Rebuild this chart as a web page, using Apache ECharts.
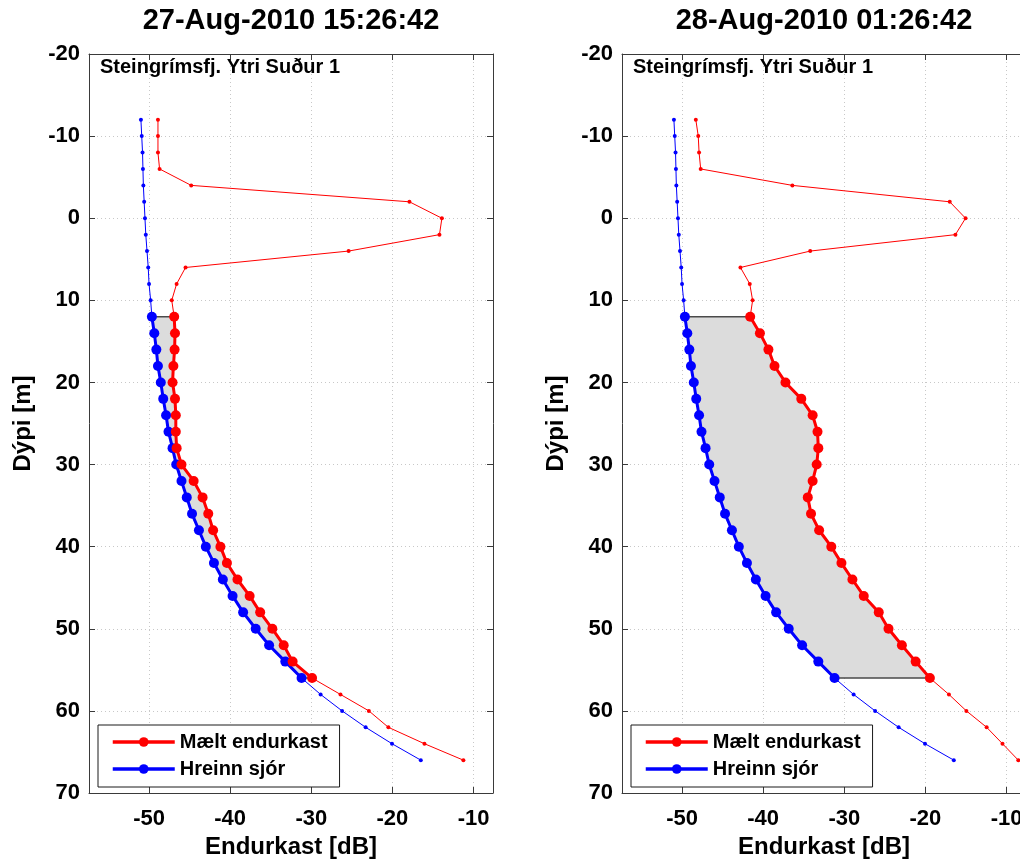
<!DOCTYPE html>
<html>
<head>
<meta charset="utf-8">
<title>Endurkast - Steingrímsfjörður</title>
<script src="https://cdn.jsdelivr.net/npm/echarts@6/dist/echarts.min.js"></script>
<style>
  html, body { margin: 0; padding: 0; background: #ffffff; }
  #chart { width: 1020px; height: 859px; }
</style>
</head>
<body>
<div id="chart"></div>
<script>
// Depth of each sample (m)
const depth = [-12, -10, -8, -6, -4, -2, 0, 2, 4, 6, 8, 10, 12, 14, 16, 18, 20, 22, 24, 26,
               28, 30, 32, 34, 36, 38, 40, 42, 44, 46, 48, 50, 52, 54, 56, 58, 60, 62, 64, 66];

// Modelled clean-water backscatter (dB), same for both casts
const hreinnSjor = [-51.0, -50.9, -50.8, -50.75, -50.7, -50.6, -50.5, -50.4, -50.25, -50.1,
                    -50.0, -49.8, -49.65, -49.35, -49.1, -48.9, -48.55, -48.25, -47.9, -47.6,
                    -47.1, -46.65, -46.0, -45.35, -44.7, -43.85, -43.0, -42.0, -40.9, -39.7,
                    -38.4, -36.85, -35.2, -33.2, -31.2, -28.85, -26.2, -23.3, -20.05, -16.5];

// Measured backscatter (dB), 27-Aug-2010 15:26:42
const maeltA = [-48.9, -48.9, -48.9, -48.7, -44.8, -17.9, -13.9, -14.2, -25.4, -45.5,
                -46.6, -47.2, -46.9, -46.8, -46.85, -47.0, -47.1, -46.8, -46.7, -46.7,
                -46.6, -46.0, -44.5, -43.4, -42.7, -42.1, -41.2, -40.4, -39.1, -37.6,
                -36.3, -34.8, -33.4, -32.3, -29.9, -26.4, -22.9, -20.5, -16.05, -11.25];

// Measured backscatter (dB), 28-Aug-2010 01:26:42
const maeltB = [-48.3, -48.0, -47.9, -47.7, -36.4, -17.0, -15.05, -16.3, -34.2, -42.8,
                -41.65, -41.3, -41.6, -40.4, -39.35, -38.6, -37.25, -35.3, -33.9, -33.3,
                -33.2, -33.4, -33.9, -34.5, -34.1, -33.1, -31.6, -30.35, -29.0, -27.6,
                -25.75, -24.55, -22.9, -21.2, -19.45, -17.1, -14.95, -12.45, -10.5, -8.55];

const panelTitles = ['27-Aug-2010 15:26:42', '28-Aug-2010 01:26:42'];
const stationName = 'Steingrímsfj. Ytri Suður 1';
const seriesNames = ['Mælt endurkast', 'Hreinn sjór'];
const xTitle = 'Endurkast [dB]';
const yTitle = 'Dýpi [m]';
const layerRange = [12, 56];      // depth band used for the integration (m)
const xRange = [-57.4, -7.6];
const yRange = [-20, 70];
const yStep = 10;

const FONT = '"Liberation Sans", Arial, Helvetica, sans-serif';
const RED = '#ff0000';
const BLUE = '#0000ff';
const AXIS_COLOR = '#3a3a3a';

const pairs = (xs) => xs.map((x, i) => [x, depth[i]]);
const inLayer = (xs) => pairs(xs).filter(p => p[1] >= layerRange[0] && p[1] <= layerRange[1]);

const panels = [
  { left: 89,  maelt: maeltA, title: panelTitles[0] },
  { left: 622, maelt: maeltB, title: panelTitles[1] }
];
const GRID_W = 404, GRID_TOP = 54, GRID_H = 739;

const option = {
  animation: false,
  backgroundColor: '#ffffff',
  textStyle: { fontFamily: FONT },
  grid: [], xAxis: [], yAxis: [], series: [], legend: [], graphic: []
};

panels.forEach((p, k) => {
  // fixed plot box; the right panel runs past the canvas edge on purpose
  option.grid.push({
    left: p.left, top: GRID_TOP, width: GRID_W, height: GRID_H,
    containLabel: false, outerBoundsMode: 'none'
  });

  const lineStyle = { color: AXIS_COLOR, width: 1 };
  // bottom x axis with labels and grid
  option.xAxis.push({
    type: 'value', gridIndex: k, position: 'bottom',
    min: xRange[0], max: xRange[1], splitNumber: 5,
    name: xTitle, nameLocation: 'middle', nameGap: 40,
    nameTextStyle: { fontSize: 24, fontWeight: 'bold', color: '#000', fontFamily: FONT },
    axisLine: { show: true, onZero: false, lineStyle },
    axisTick: { show: true, inside: true, length: 6, lineStyle },
    axisLabel: { fontSize: 22, fontWeight: 'bold', color: '#000', fontFamily: FONT, margin: 15,
                 showMinLabel: false, showMaxLabel: false },
    splitLine: { show: true, lineStyle: { color: '#c8c8c8', width: 1, type: [1, 3] } }
  });
  // top x axis: box edge with ticks
  option.xAxis.push({
    type: 'value', gridIndex: k, position: 'top',
    min: xRange[0], max: xRange[1], splitNumber: 5,
    axisLine: { show: true, onZero: false, lineStyle },
    axisTick: { show: true, inside: true, length: 6, lineStyle },
    axisLabel: { show: false }, splitLine: { show: false }
  });
  // left depth axis
  option.yAxis.push({
    type: 'value', gridIndex: k, position: 'left', inverse: true,
    min: yRange[0], max: yRange[1], interval: yStep,
    name: yTitle, nameLocation: 'middle', nameGap: 54,
    nameTextStyle: { fontSize: 24, fontWeight: 'bold', color: '#000', fontFamily: FONT },
    axisLine: { show: true, onZero: false, lineStyle },
    axisTick: { show: true, inside: true, length: 6, lineStyle },
    axisLabel: { fontSize: 22, fontWeight: 'bold', color: '#000', fontFamily: FONT, margin: 9 },
    splitLine: { show: true, lineStyle: { color: '#c8c8c8', width: 1, type: [1, 3] } }
  });
  // right depth axis: box edge with ticks
  option.yAxis.push({
    type: 'value', gridIndex: k, position: 'right', inverse: true,
    min: yRange[0], max: yRange[1], interval: yStep,
    axisLine: { show: true, onZero: false, lineStyle },
    axisTick: { show: true, inside: true, length: 6, lineStyle },
    axisLabel: { show: false }, splitLine: { show: false }
  });

  const xi = k * 2, yi = k * 2;

  // shaded band between measured and clean-water profiles
  const band = inLayer(p.maelt).concat(inLayer(hreinnSjor).reverse());
  option.series.push({
    type: 'custom', xAxisIndex: xi, yAxisIndex: yi, z: 1, silent: true,
    data: band, encode: { x: 0, y: 1 },
    renderItem: function (params, api) {
      if (params.dataIndexInside !== 0) return;
      const pts = [];
      for (let i = 0; i < params.dataInsideLength; i++) {
        pts.push(api.coord([api.value(0, i), api.value(1, i)]));
      }
      return {
        type: 'polygon',
        shape: { points: pts },
        style: { fill: '#dcdcdc', stroke: '#4a4a4a', lineWidth: 1.5 }
      };
    }
  });

  const thin = (data, color) => ({
    type: 'line', xAxisIndex: xi, yAxisIndex: yi, z: 2, silent: true,
    data, symbol: 'circle', symbolSize: 4, showAllSymbol: true,
    lineStyle: { color, width: 1 }, itemStyle: { color }, emphasis: { disabled: true }
  });
  const thick = (name, data, color) => ({
    name, type: 'line', xAxisIndex: xi, yAxisIndex: yi, z: 3, silent: true,
    data, symbol: 'circle', symbolSize: 10, showAllSymbol: true,
    lineStyle: { color, width: 3 }, itemStyle: { color }, emphasis: { disabled: true }
  });

  option.series.push(thin(pairs(hreinnSjor), BLUE));
  option.series.push(thin(pairs(p.maelt), RED));
  option.series.push(thick(seriesNames[1], inLayer(hreinnSjor), BLUE));
  option.series.push(thick(seriesNames[0], inLayer(p.maelt), RED));

  option.legend.push({
    data: seriesNames, orient: 'vertical', selectedMode: false,
    left: p.left + 9, top: 725,
    itemWidth: 62, itemHeight: 12, itemGap: 7,
    padding: [7, 12, 8, 13],
    lineStyle: { width: 3.5 },
    backgroundColor: '#ffffff', borderColor: '#1a1a1a', borderWidth: 1, borderRadius: 0,
    textStyle: { fontSize: 20, fontWeight: 'bold', color: '#000', fontFamily: FONT }
  });

  option.graphic.push({
    type: 'text', x: p.left + GRID_W / 2, y: 21, z: 10,
    style: { text: p.title, font: 'bold 29px ' + FONT, fill: '#000', align: 'center', verticalAlign: 'middle' }
  });
  option.graphic.push({
    type: 'text', x: p.left + 11, y: 67, z: 10,
    style: { text: stationName, font: 'bold 20px ' + FONT, fill: '#000', align: 'left', verticalAlign: 'middle' }
  });
});

const chart = echarts.init(document.getElementById('chart'), null, { renderer: 'canvas' });
chart.setOption(option);
</script>
</body>
</html>
